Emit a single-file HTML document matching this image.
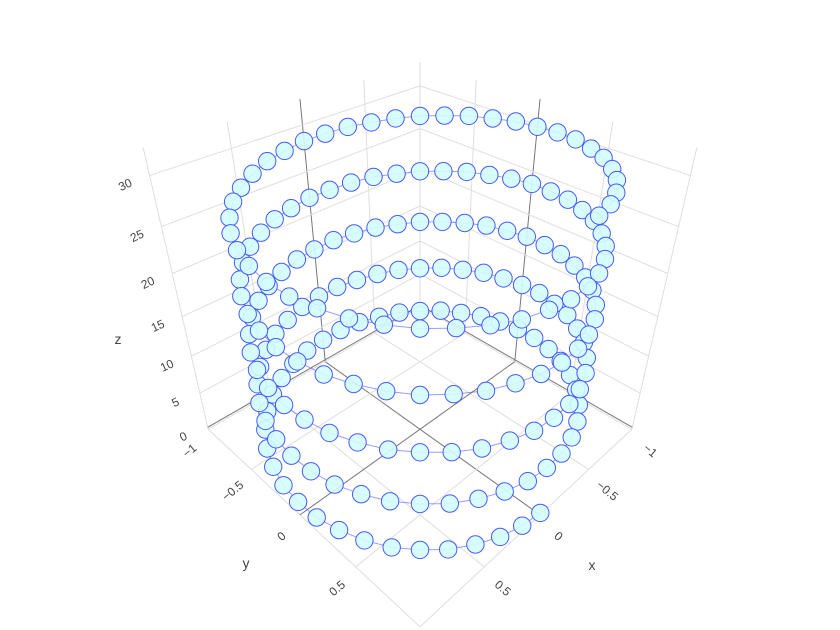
<!DOCTYPE html>
<html><head><meta charset="utf-8"><style>
html,body{margin:0;padding:0;background:#fff;}
svg{display:block;font-family:"Liberation Sans",sans-serif;}
</style></head><body>
<svg id="chart" width="840" height="630" viewBox="0 0 840 630" xmlns="http://www.w3.org/2000/svg">
<g id="grid"></g>
<g id="ticks"></g>
<g id="series"></g>
<text x="592" y="570" font-size="14" fill="#444" text-anchor="middle">x</text>
<text x="246" y="568" font-size="14" fill="#444" text-anchor="middle">y</text>
<text x="118" y="344" font-size="14" fill="#444" text-anchor="middle">z</text>
</svg>
<script>
const xs=[0,.156,.309,.454,.588,.707,.809,.891,.951,.988,1,.988,.951,.891,.809,.707,.588,.454,.309,.156,0,-.156,-.309,-.454,-.588,-.707,-.809,-.891,-.951,-.988,-1,-.988,-.951,-.891,-.809,-.707,-.588,-.454,-.309,-.156,
0,.156,.309,.454,.588,.707,.809,.891,.951,.988,1,.988,.951,.891,.809,.707,.588,.454,.309,.156,0,-.156,-.309,-.454,-.588,-.707,-.809,-.891,-.951,-.988,-1,-.988,-.951,-.891,-.809,-.707,-.588,-.454,-.309,-.156,
0,.156,.309,.454,.588,.707,.809,.891,.951,.988,1,.988,.951,.891,.809,.707,.588,.454,.309,.156,0,-.156,-.309,-.454,-.588,-.707,-.809,-.891,-.951,-.988,-1,-.988,-.951,-.891,-.809,-.707,-.588,-.454,-.309,-.156,
0,.156,.309,.454,.588,.707,.809,.891,.951,.988,1,.988,.951,.891,.809,.707,.588,.454,.309,.156,0,-.156,-.309,-.454,-.588,-.707,-.809,-.891,-.951,-.988,-1,-.988,-.951,-.891,-.809,-.707,-.588,-.454,-.309,-.156,
0,.156,.309,.454,.588,.707,.809,.891,.951,.988,1,.988,.951,.891,.809,.707,.588,.454,.309,.156,0,-.156,-.309,-.454,-.588,-.707,-.809,-.891,-.951,-.988,-1,-.988,-.951,-.891,-.809,-.707,-.588,-.454,-.309,-.156];
const ys=[1,.988,.951,.891,.809,.707,.588,.454,.309,.156,0,-.156,-.309,-.454,-.588,-.707,-.809,-.891,-.951,-.988,-1,-.988,-.951,-.891,-.809,-.707,-.588,-.454,-.309,-.156,0,.156,.309,.454,.588,.707,.809,.891,.951,.988,
1,.988,.951,.891,.809,.707,.588,.454,.309,.156,0,-.156,-.309,-.454,-.588,-.707,-.809,-.891,-.951,-.988,-1,-.988,-.951,-.891,-.809,-.707,-.588,-.454,-.309,-.156,0,.156,.309,.454,.588,.707,.809,.891,.951,.988,
1,.988,.951,.891,.809,.707,.588,.454,.309,.156,0,-.156,-.309,-.454,-.588,-.707,-.809,-.891,-.951,-.988,-1,-.988,-.951,-.891,-.809,-.707,-.588,-.454,-.309,-.156,0,.156,.309,.454,.588,.707,.809,.891,.951,.988,
1,.988,.951,.891,.809,.707,.588,.454,.309,.156,0,-.156,-.309,-.454,-.588,-.707,-.809,-.891,-.951,-.988,-1,-.988,-.951,-.891,-.809,-.707,-.588,-.454,-.309,-.156,0,.156,.309,.454,.588,.707,.809,.891,.951,.988,
1,.988,.951,.891,.809,.707,.588,.454,.309,.156,0,-.156,-.309,-.454,-.588,-.707,-.809,-.891,-.951,-.988,-1,-.988,-.951,-.891,-.809,-.707,-.588,-.454,-.309,-.156,0,.156,.309,.454,.588,.707,.809,.891,.951,.988];
const zs=[0,.2,.3,.5,.6,.8,.9,1.1,1.3,1.4,1.6,1.7,1.9,2,2.2,2.4,2.5,2.7,2.8,3,
3.1,3.3,3.5,3.6,3.8,3.9,4.1,4.2,4.4,4.6,4.7,4.9,5,5.2,5.3,5.5,5.7,5.8,6,6.1,
6.3,6.4,6.6,6.8,6.9,7.1,7.2,7.4,7.5,7.7,7.9,8,8.2,8.3,8.5,8.6,8.8,9,9.1,9.3,
9.4,9.6,9.7,9.9,10.1,10.2,10.4,10.5,10.7,10.8,11,11.2,11.3,11.5,11.6,11.8,11.9,12.1,12.2,12.4,
12.6,12.7,12.9,13,13.2,13.4,13.5,13.7,13.8,14,14.1,14.3,14.5,14.6,14.8,14.9,15.1,15.2,15.4,15.6,
15.7,15.9,16,16.2,16.3,16.5,16.6,16.8,17,17.1,17.3,17.4,17.6,17.7,17.9,18.1,18.2,18.4,18.5,18.7,
18.8,19,19.2,19.3,19.5,19.6,19.8,20,20.1,20.3,20.4,20.6,20.7,20.9,21,21.2,21.4,21.5,21.7,21.8,
22,22.1,22.3,22.5,22.6,22.8,22.9,23.1,23.2,23.4,23.6,23.7,23.9,24,24.2,24.3,24.5,24.7,24.8,25,
25.1,25.3,25.4,25.6,25.8,25.9,26.1,26.2,26.4,26.5,26.7,26.9,27,27.2,27.3,27.5,27.6,27.8,28,28.1,
28.3,28.4,28.6,28.7,28.9,29.1,29.2,29.4,29.5,29.7,29.8,30,30.2,30.3,30.5,30.6,30.8,30.9,31.1,31.3];
const xTicks=[-1,-0.5,0,0.5,1];
const yTicks=[-1,-0.5,0,0.5,1];
const zTicks=[0,5,10,15,20,25,30];
const xLabels=["\u22121","\u22120.5","0","0.5"];
const yLabels=["\u22121","\u22120.5","0","0.5"];
const zLabels=["0","5","10","15","20","25","30"];

const XR=[-1,1], YR=[-1,1], ZR=[-0.3,32.6];
const NS="http://www.w3.org/2000/svg";
const EYE=[2.5,2.5,2.5], SC=735, CX=420, CY=307;
function norm(a){const l=Math.hypot(a[0],a[1],a[2]);return [a[0]/l,a[1]/l,a[2]/l];}
const F=norm([-EYE[0],-EYE[1],-EYE[2]]);
const RT=norm([F[1],-F[0],0]);
const UP=[RT[1]*F[2]-RT[2]*F[1], RT[2]*F[0]-RT[0]*F[2], RT[0]*F[1]-RT[1]*F[0]];
function nx(v){return 2*(v-XR[0])/(XR[1]-XR[0])-1;}
function ny(v){return 2*(v-YR[0])/(YR[1]-YR[0])-1;}
function nz(v){return 2*(v-ZR[0])/(ZR[1]-ZR[0])-1;}
function proj(x,y,z){
  const d=[nx(x)-EYE[0],ny(y)-EYE[1],nz(z)-EYE[2]];
  const dep=d[0]*F[0]+d[1]*F[1]+d[2]*F[2];
  const sx=(d[0]*RT[0]+d[1]*RT[1]+d[2]*RT[2])/dep;
  const sy=(d[0]*UP[0]+d[1]*UP[1]+d[2]*UP[2])/dep;
  return [CX+SC*sx, CY-SC*sy, dep];
}
const grid=document.getElementById('grid');
function line(a,b,col,name){
  const p=proj(...a),q=proj(...b);
  const l=document.createElementNS(NS,'line');
  l.setAttribute('x1',p[0]);l.setAttribute('y1',p[1]);l.setAttribute('x2',q[0]);l.setAttribute('y2',q[1]);
  l.setAttribute('stroke',col);l.setAttribute('stroke-width','1');
  
  
  grid.appendChild(l);
}
const GC="#dedede", ZC="#777";
xTicks.forEach(t=>line([t,YR[0],ZR[0]],[t,YR[0],ZR[1]],t===0?ZC:GC,'x-gridline-wall'));
zTicks.forEach(t=>line([XR[0],YR[0],t],[XR[1],YR[0],t],t===0?ZC:GC,'z-gridline-wall-y'));
yTicks.forEach(t=>line([XR[0],t,ZR[0]],[XR[0],t,ZR[1]],t===0?ZC:GC,'y-gridline-wall'));
zTicks.forEach(t=>line([XR[0],YR[0],t],[XR[0],YR[1],t],t===0?ZC:GC,'z-gridline-wall-x'));
xTicks.forEach(t=>line([t,YR[0],ZR[0]],[t,YR[1],ZR[0]],t===0?ZC:GC,'x-gridline-floor'));
yTicks.forEach(t=>line([XR[0],t,ZR[0]],[XR[1],t,ZR[0]],t===0?ZC:GC,'y-gridline-floor'));

const tk=document.getElementById('ticks');
function label(txt,x,y,rot,name){
  const t=document.createElementNS(NS,'text');
  t.setAttribute('x',x);t.setAttribute('y',y);
  t.setAttribute('font-size','12');t.setAttribute('fill','#444');
  t.setAttribute('text-anchor','middle');t.setAttribute('dominant-baseline','middle');
  t.setAttribute('transform','rotate('+rot+' '+x+' '+y+')');
  t.textContent=txt;
  
  
  tk.appendChild(t);
}
xLabels.forEach((s,i)=>{const p=proj(xTicks[i],YR[1],ZR[0]);label(s,p[0]+18,p[1]+22,40,'x-tick-label');});
yLabels.forEach((s,i)=>{const p=proj(XR[1],yTicks[i],ZR[0]);label(s,p[0]-18,p[1]+22,-40,'y-tick-label');});
zLabels.forEach((s,i)=>{const p=proj(XR[1],YR[0],zTicks[i]);label(s,p[0]-24,p[1]+10,-25,'z-tick-label');});

const ser=document.getElementById('series');
const pts=xs.map((x,i)=>proj(x,ys[i],zs[i]));
const pl=document.createElementNS(NS,'polyline');
pl.setAttribute('points',pts.map(p=>p[0].toFixed(1)+','+p[1].toFixed(1)).join(' '));
pl.setAttribute('fill','none');pl.setAttribute('stroke','rgba(60,80,255,0.55)');pl.setAttribute('stroke-width','1');


ser.appendChild(pl);
const order=pts.map((p,i)=>i).sort((a,b)=>pts[b][2]-pts[a][2]);
order.forEach(i=>{
  const c=document.createElementNS(NS,'circle');
  c.setAttribute('cx',pts[i][0].toFixed(1));c.setAttribute('cy',pts[i][1].toFixed(1));c.setAttribute('r','8.7');
  c.setAttribute('fill','rgb(212,253,253)');c.setAttribute('fill-opacity','0.9');
  c.setAttribute('stroke','rgb(70,90,255)');c.setAttribute('stroke-width','1');
  
  
  ser.appendChild(c);
});
</script>
</body></html>
